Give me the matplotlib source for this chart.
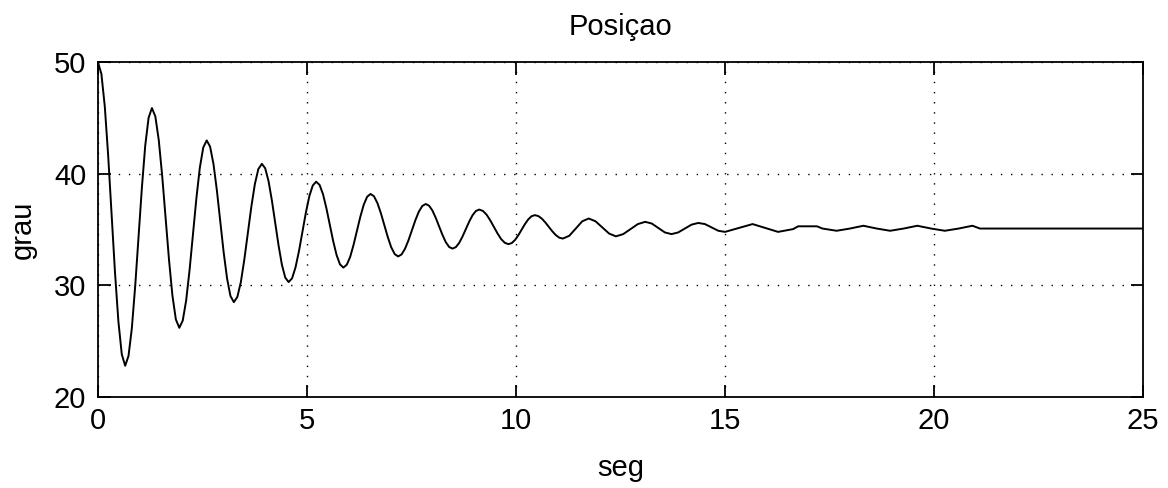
import matplotlib.pyplot as plt

# Curve (time in s, position in degrees)
t = [0.0, 0.081, 0.163, 0.244, 0.325, 0.406, 0.488, 0.569, 0.65,
     0.73, 0.81, 0.89, 0.97, 1.05, 1.13, 1.21, 1.29,
     1.372, 1.454, 1.536, 1.618, 1.699, 1.781, 1.863, 1.945,
     2.027, 2.109, 2.191, 2.273, 2.354, 2.436, 2.518, 2.60,
     2.681, 2.763, 2.844, 2.925, 3.006, 3.088, 3.169, 3.25,
     3.334, 3.418, 3.501, 3.585, 3.669, 3.753, 3.836, 3.92,
     4.0, 4.08, 4.16, 4.24, 4.32, 4.40, 4.48, 4.56,
     4.643, 4.725, 4.808, 4.89, 4.973, 5.055, 5.138, 5.22,
     5.301, 5.383, 5.464, 5.545, 5.626, 5.708, 5.789, 5.87,
     5.951, 6.033, 6.114, 6.195, 6.276, 6.358, 6.439, 6.52,
     6.603, 6.685, 6.768, 6.85, 6.933, 7.015, 7.098, 7.18,
     7.263, 7.345, 7.428, 7.51, 7.593, 7.675, 7.758, 7.84,
     7.92, 8.0, 8.08, 8.16, 8.24, 8.32, 8.40, 8.48,
     8.56, 8.64, 8.72, 8.80, 8.88, 8.96, 9.04, 9.12,
     9.208, 9.295, 9.383, 9.47, 9.558, 9.645, 9.733, 9.82,
     9.899, 9.978, 10.056, 10.135, 10.214, 10.293, 10.371, 10.45,
     10.534, 10.618, 10.701, 10.785, 10.869, 10.953, 11.036, 11.12,
     11.275, 11.43, 11.585, 11.74,
     11.9025, 12.065, 12.2275, 12.39,
     12.565, 12.74, 12.915, 13.09,
     13.2475, 13.405, 13.5625, 13.72,
     13.88, 14.04, 14.2, 14.36,
     14.52, 14.68, 14.84, 15.0,
     15.33, 15.66, 15.965, 16.27,
     16.63, 16.75, 16.99, 17.2, 17.33, 17.67,
     17.99, 18.31, 18.63, 18.95,
     19.275, 19.6, 19.93, 20.26,
     20.59, 20.92, 21.1, 25.0]
pos = [50.0, 48.97, 46.03, 41.6, 36.4, 31.2, 26.77, 23.83, 22.8,
       23.68, 26.17, 29.94, 34.35, 38.76, 42.53, 45.02, 45.9,
       45.15, 43.02, 39.81, 36.05, 32.29, 29.08, 26.95, 26.2,
       26.84, 28.65, 31.39, 34.6, 37.81, 40.55, 42.36, 43.0,
       42.45, 40.88, 38.52, 35.75, 32.98, 30.62, 29.05, 28.5,
       28.97, 30.31, 32.33, 34.7, 37.07, 39.09, 40.43, 40.9,
       40.5, 39.35, 37.62, 35.6, 33.58, 31.85, 30.7, 30.3,
       30.64, 31.61, 33.08, 34.8, 36.52, 37.99, 38.96, 39.3,
       39.01, 38.18, 36.92, 35.45, 33.98, 32.72, 31.89, 31.6,
       31.85, 32.56, 33.64, 34.9, 36.16, 37.24, 37.95, 38.2,
       37.99, 37.38, 36.47, 35.4, 34.33, 33.42, 32.81, 32.6,
       32.78, 33.29, 34.05, 34.95, 35.85, 36.61, 37.12, 37.3,
       37.15, 36.72, 36.06, 35.3, 34.54, 33.88, 33.45, 33.3,
       33.43, 33.81, 34.38, 35.05, 35.72, 36.29, 36.67, 36.8,
       36.68, 36.35, 35.84, 35.25, 34.66, 34.15, 33.82, 33.7,
       33.8, 34.08, 34.5, 35.0, 35.5, 35.92, 36.2, 36.3,
       36.22, 35.99, 35.65, 35.25, 34.85, 34.51, 34.28, 34.2,
       34.45, 35.1, 35.75, 36.0,
       35.75, 35.2, 34.65, 34.4,
       34.6, 35.05, 35.5, 35.7,
       35.55, 35.15, 34.75, 34.6,
       34.75, 35.1, 35.45, 35.6,
       35.5, 35.2, 34.9, 34.8,
       35.15, 35.5, 35.15, 34.8,
       35.05, 35.3, 35.3, 35.3, 35.1, 34.9,
       35.1, 35.35, 35.1, 34.9,
       35.1, 35.35, 35.1, 34.9,
       35.1, 35.35, 35.1, 35.1]

xticks = [0, 5, 10, 15, 20, 25]
yticks = [20, 30, 40, 50]

plt.rcParams['font.family'] = ['Liberation Sans', 'DejaVu Sans']

fig = plt.figure(figsize=(11.68, 4.88), dpi=100)
ax = fig.add_axes([0.0839, 0.1865, 0.8947, 0.6858])

ax.plot(t, pos, color='black', lw=1.4)

ax.set_xlim(0, 25)
ax.set_ylim(20, 50)
ax.set_xticks(xticks)
ax.set_yticks(yticks)
ax.grid(True, color='black', lw=1.0, linestyle=(0, (1, 6.3)))
ax.tick_params(direction='in', length=9, width=1.3, top=True, right=True,
               labelsize=21, colors='black')
ax.tick_params(axis='x', pad=7)
ax.tick_params(axis='y', pad=8.5)
for s in ax.spines.values():
    s.set_linewidth(1.3)

ax.set_title('Posiçao', fontsize=21, pad=20)
ax.set_xlabel('seg', fontsize=21, labelpad=14)
ax.set_ylabel('grau', fontsize=21, labelpad=12)

fig.savefig('out.png', dpi=100)
